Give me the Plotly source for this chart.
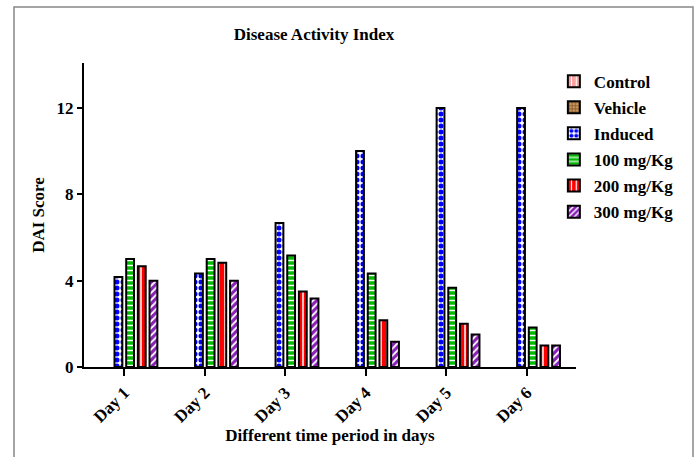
import plotly.graph_objects as go

days = ["Day 1", "Day 2", "Day 3", "Day 4", "Day 5", "Day 6"]
series_names = ["Control", "Vehicle", "Induced", "100 mg/Kg", "200 mg/Kg", "300 mg/Kg"]
control = [0, 0, 0, 0, 0, 0]
vehicle = [0, 0, 0, 0, 0, 0]
induced = [4.17, 4.33, 6.67, 10.0, 12.0, 12.0]
mg100 = [5.0, 5.0, 5.17, 4.33, 3.67, 1.83]
mg200 = [4.67, 4.83, 3.5, 2.17, 2.0, 1.0]
mg300 = [4.0, 4.0, 3.17, 1.17, 1.5, 1.0]
y_ticks = [0, 4, 8, 12]

values = [control, vehicle, induced, mg100, mg200, mg300]
styles = [
    dict(color="#f7a3a3", shape="|", fg="#ffffff", size=6, solidity=0.2),
    dict(color="#c89a63", shape="+", fg="#7a4a1a", size=4, solidity=0.4),
    dict(color="#ffffff", shape=".", fg="#0000ff", size=6, solidity=0.55),
    dict(color="#00bb00", shape="-", fg="#ffffff", size=5, solidity=0.3),
    dict(color="#ff0000", shape="|", fg="#ffffff", size=6, solidity=0.25),
    dict(color="#8a1fb8", shape="/", fg="#ffffff", size=5, solidity=0.35),
]

font_family = "Liberation Serif, Times New Roman, serif"

fig = go.Figure()
for name, vals, st in zip(series_names, values, styles):
    # zero-height bars are not drawn (no visible outline on the axis)
    yv = [v if v != 0 else None for v in vals]
    fig.add_trace(go.Bar(
        name=f"<b>{name}</b>", x=days, y=yv, legendgroup=name,
        marker=dict(
            color=st["color"],
            line=dict(color="black", width=2),
            pattern=dict(shape=st["shape"], fgcolor=st["fg"], bgcolor=st["color"],
                         size=st["size"], solidity=st["solidity"], fillmode="replace"),
        ),
    ))

fig.update_layout(
    width=697, height=457,
    margin=dict(l=84, r=121, t=63, b=90),
    paper_bgcolor="white", plot_bgcolor="white",
    barmode="group", bargap=0.13, bargroupgap=0.33,
    font=dict(family=font_family, size=17, color="black"),
    title=dict(text="<b>Disease Activity Index</b>", x=(314 / 697), xanchor="center",
               y=1 - 34 / 457, yanchor="middle", font=dict(size=17)),
    legend=dict(x=0.955, y=0.998, xanchor="left", yanchor="top",
                font=dict(size=17, family=font_family), tracegroupgap=1,
                bgcolor="rgba(0,0,0,0)", itemwidth=30),
    showlegend=True,
)
fig.update_xaxes(
    type="category", range=[-0.5, 5.61],
    showline=True, linecolor="black", linewidth=2,
    ticks="outside", ticklen=7, tickwidth=2, tickcolor="black",
    tickangle=-45, tickfont=dict(size=17),
    tickprefix="<b>", ticksuffix="</b>",
    title=dict(text="<b>Different time period in days</b>", font=dict(size=17), standoff=4),
    showgrid=False, zeroline=False,
)
fig.update_yaxes(
    range=[0, 14.08], tickvals=y_ticks, ticktext=[f"<b>{v}</b>" for v in y_ticks],
    showline=True, linecolor="black", linewidth=2,
    ticks="outside", ticklen=5, tickwidth=2, tickcolor="black",
    tickfont=dict(size=17),
    title=dict(text="<b>DAI Score</b>", font=dict(size=17), standoff=8),
    showgrid=False, zeroline=False,
)
# outer frame
fig.add_shape(type="rect", xref="paper", yref="paper",
              x0=(14 - 84) / 492, x1=(693 - 84) / 492,
              y0=-0.5, y1=(366.7 - 7) / 303.7,
              line=dict(color="#888888", width=1.5), layer="below")

fig.write_html("out.html")
